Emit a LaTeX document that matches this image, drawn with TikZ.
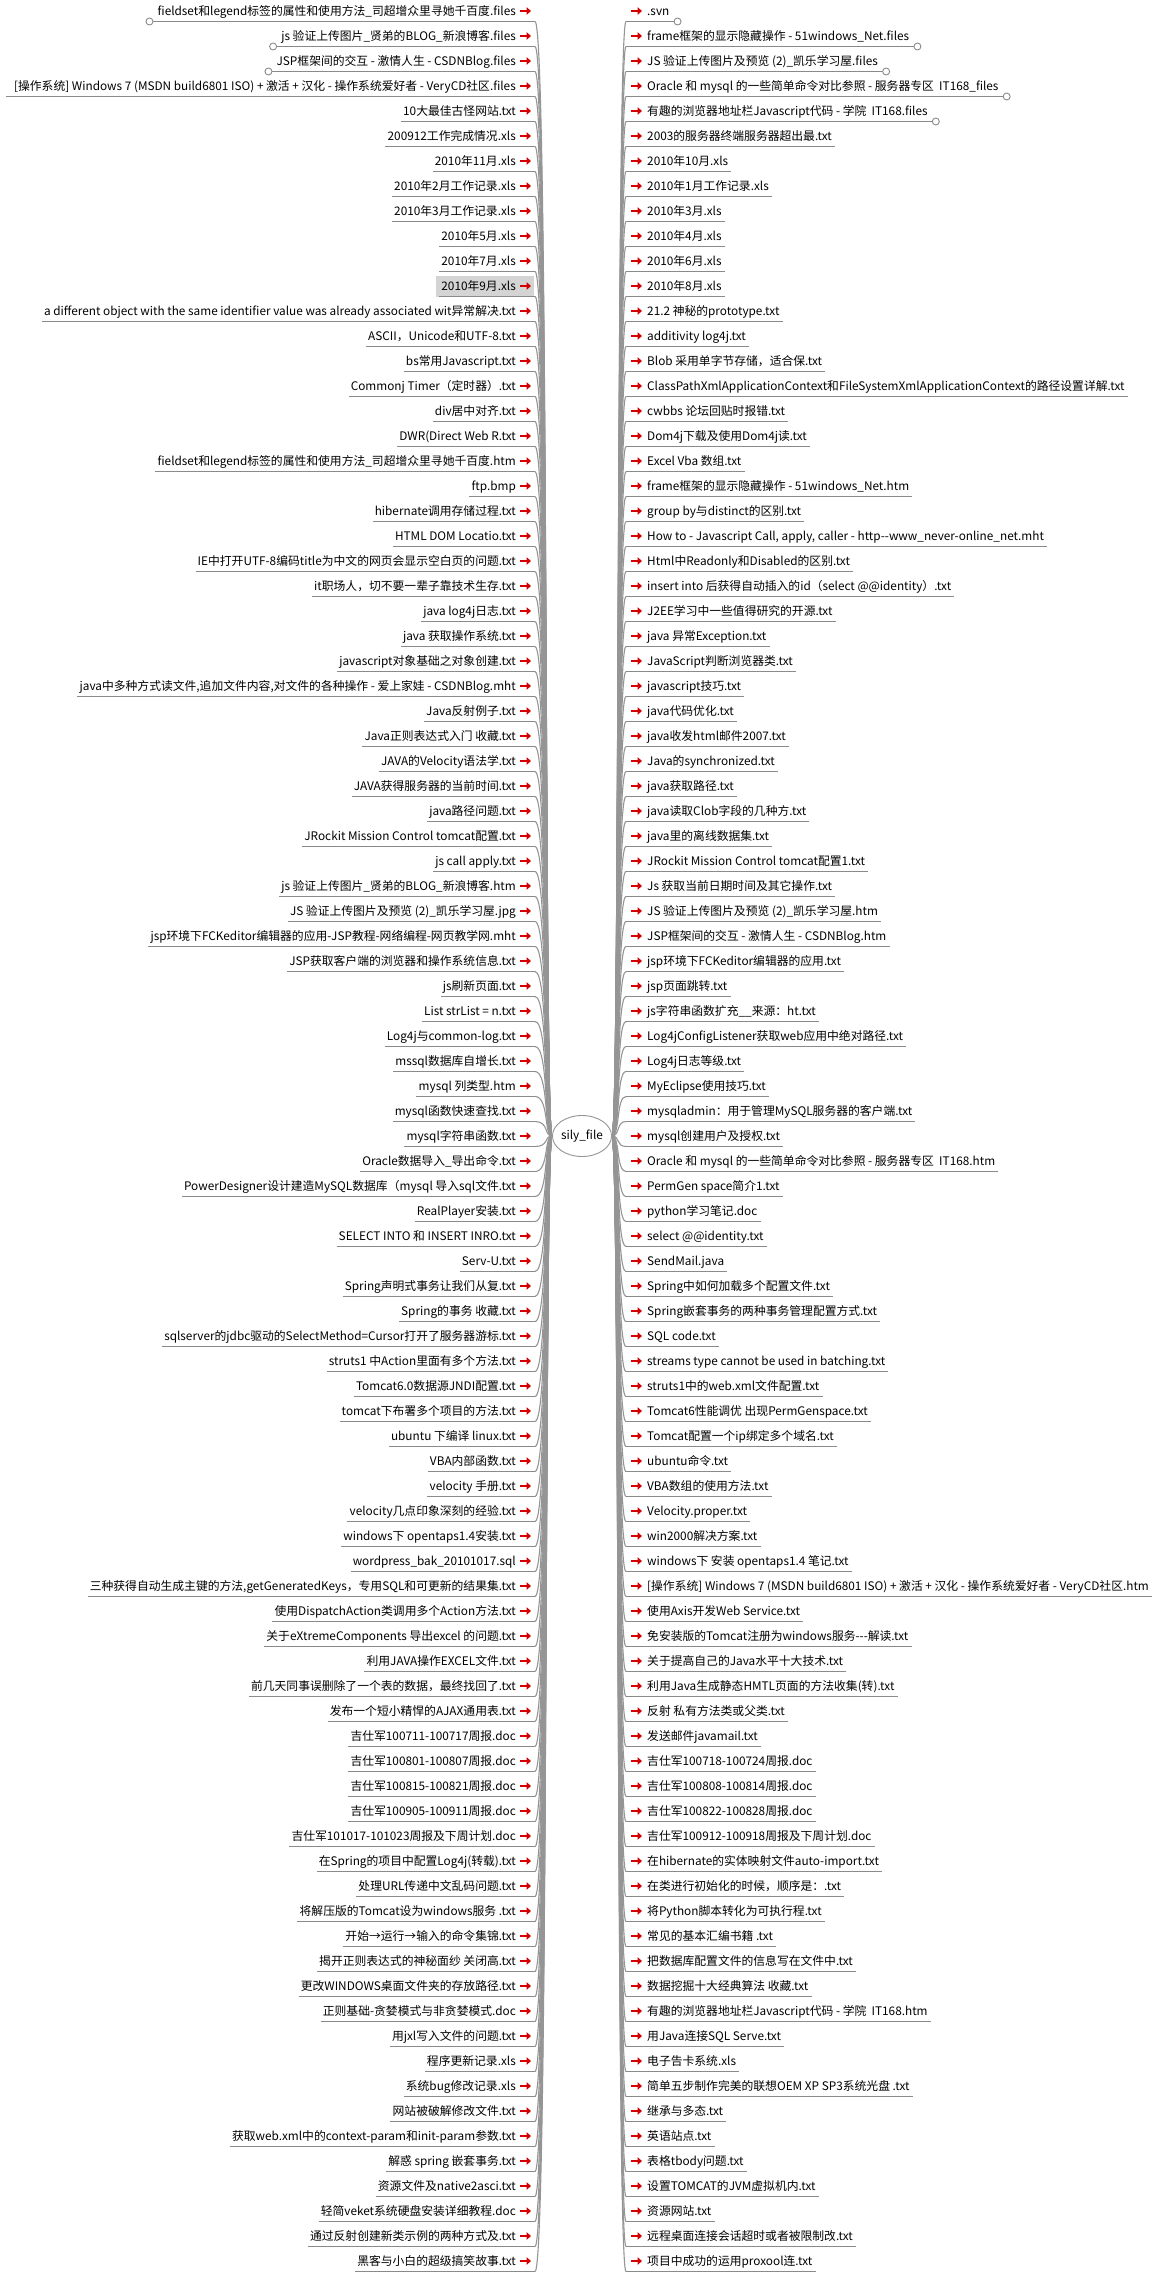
\documentclass[tikz,border=0pt]{standalone}
\usepackage{fontspec}
\setmainfont{Noto Sans CJK SC}[Ligatures=TeXOff]
\usetikzlibrary{arrows.meta,calc,backgrounds,shapes.geometric}
\definecolor{lgray}{HTML}{8A8A8A}
\definecolor{cgray}{HTML}{959595}
\definecolor{ared}{HTML}{D40000}
\definecolor{hl}{HTML}{D4D4D4}
\newcommand\itemfont{\fontsize{11.8}{13}\selectfont}
\tikzset{
  lt/.style={font=\itemfont, inner sep=0pt, anchor=east, text height=10pt, text depth=1.5pt},
  rt/.style={font=\itemfont, inner sep=0pt, anchor=west, text height=10pt, text depth=1.5pt},
  uline/.style={draw=lgray, line width=1.1pt},
  conn/.style={draw=cgray, line width=1.1pt},
  redarr/.style={draw=ared, line width=2pt, -{Triangle[length=4.5pt,width=7.5pt]}},
  endring/.style={circle, draw=lgray, fill=white, line width=0.9pt, minimum size=7pt, inner sep=0pt},
  hub/.style={ellipse, draw=cgray, fill=white, line width=0.9pt, minimum width=52pt, minimum height=41pt, inner sep=0pt, font=\itemfont},
}
\begin{document}
\begin{tikzpicture}[x=1pt,y=-1pt]
\useasboundingbox (0,0) rectangle (1161,2272);
\begin{pgfonlayer}{background}
\fill[white] (0,0) rectangle (1161,2272);
\end{pgfonlayer}

\node[hub] (c) at (582,1136) {sily\_file};

\foreach \t [count=\i] in {
{fieldset和legend标签的属性和使用方法\_司超增众里寻她千百度.files},
{js 验证上传图片\_贤弟的BLOG\_新浪博客.files},
{JSP框架间的交互 - 激情人生 - CSDNBlog.files},
{[操作系统] Windows 7 (MSDN build6801 ISO) + 激活 + 汉化 - 操作系统爱好者 - VeryCD社区.files},
{10大最佳古怪网站.txt},
{200912工作完成情况.xls},
{2010年11月.xls},
{2010年2月工作记录.xls},
{2010年3月工作记录.xls},
{2010年5月.xls},
{2010年7月.xls},
{2010年9月.xls},
{a different object with the same identifier value was already associated wit异常解决.txt},
{ASCII，Unicode和UTF-8.txt},
{bs常用Javascript.txt},
{Commonj Timer（定时器）.txt},
{div居中对齐.txt},
{DWR(Direct Web R.txt},
{fieldset和legend标签的属性和使用方法\_司超增众里寻她千百度.htm},
{ftp.bmp},
{hibernate调用存储过程.txt},
{HTML DOM Locatio.txt},
{IE中打开UTF-8编码title为中文的网页会显示空白页的问题.txt},
{it职场人，切不要一辈子靠技术生存.txt},
{java log4j日志.txt},
{java 获取操作系统.txt},
{javascript对象基础之对象创建.txt},
{java中多种方式读文件,追加文件内容,对文件的各种操作 - 爱上家娃 - CSDNBlog.mht},
{Java反射例子.txt},
{Java正则表达式入门 收藏.txt},
{JAVA的Velocity语法学.txt},
{JAVA获得服务器的当前时间.txt},
{java路径问题.txt},
{JRockit Mission Control tomcat配置.txt},
{js call apply.txt},
{js 验证上传图片\_贤弟的BLOG\_新浪博客.htm},
{JS 验证上传图片及预览 (2)\_凯乐学习屋.jpg},
{jsp环境下FCKeditor编辑器的应用-JSP教程-网络编程-网页教学网.mht},
{JSP获取客户端的浏览器和操作系统信息.txt},
{js刷新页面.txt},
{List strList = n.txt},
{Log4j与common-log.txt},
{mssql数据库自增长.txt},
{mysql 列类型.htm},
{mysql函数快速查找.txt},
{mysql字符串函数.txt},
{Oracle数据导入\_导出命令.txt},
{PowerDesigner设计建造MySQL数据库（mysql 导入sql文件.txt},
{RealPlayer安装.txt},
{SELECT INTO 和 INSERT INRO.txt},
{Serv-U.txt},
{Spring声明式事务让我们从复.txt},
{Spring的事务 收藏.txt},
{sqlserver的jdbc驱动的SelectMethod=Cursor打开了服务器游标.txt},
{struts1 中Action里面有多个方法.txt},
{Tomcat6.0数据源JNDI配置.txt},
{tomcat下布署多个项目的方法.txt},
{ubuntu 下编译 linux.txt},
{VBA内部函数.txt},
{velocity 手册.txt},
{velocity几点印象深刻的经验.txt},
{windows下 opentaps1.4安装.txt},
{wordpress\_bak\_20101017.sql},
{三种获得自动生成主键的方法,getGeneratedKeys，专用SQL和可更新的结果集.txt},
{使用DispatchAction类调用多个Action方法.txt},
{关于eXtremeComponents 导出excel 的问题.txt},
{利用JAVA操作EXCEL文件.txt},
{前几天同事误删除了一个表的数据，最终找回了.txt},
{发布一个短小精悍的AJAX通用表.txt},
{吉仕军100711-100717周报.doc},
{吉仕军100801-100807周报.doc},
{吉仕军100815-100821周报.doc},
{吉仕军100905-100911周报.doc},
{吉仕军101017-101023周报及下周计划.doc},
{在Spring的项目中配置Log4j(转载).txt},
{处理URL传递中文乱码问题.txt},
{将解压版的Tomcat设为windows服务 .txt},
{开始→运行→输入的命令集锦.txt},
{揭开正则表达式的神秘面纱 关闭高.txt},
{更改WINDOWS桌面文件夹的存放路径.txt},
{正则基础-贪婪模式与非贪婪模式.doc},
{用jxl写入文件的问题.txt},
{程序更新记录.xls},
{系统bug修改记录.xls},
{网站被破解修改文件.txt},
{获取web.xml中的context-param和init-param参数.txt},
{解惑 spring 嵌套事务.txt},
{资源文件及native2asci.txt},
{轻简veket系统硬盘安装详细教程.doc},
{通过反射创建新类示例的两种方式及.txt},
{黑客与小白的超级搞笑故事.txt}} {
  \pgfmathsetmacro\yt{11+25*(\i-1)}
  \pgfmathsetmacro\yu{\yt+10.5}
  \node[lt] (L\i) at (516,\yt) {\t};
  \coordinate (Le\i) at (535,\yu);
  \draw[uline] ($(L\i.west |- Le\i)+(-2,0)$) -- (Le\i);
  \draw[redarr] (520,\yt) -- (531,\yt);
  \draw[conn] (c.west) .. controls +(-8,0) and +(14,0) .. (Le\i);
}

\foreach \t [count=\i] in {
{.svn},
{frame框架的显示隐藏操作 - 51windows\_Net.files},
{JS 验证上传图片及预览 (2)\_凯乐学习屋.files},
{Oracle 和 mysql 的一些简单命令对比参照 - 服务器专区\ \ IT168\_files},
{有趣的浏览器地址栏Javascript代码 - 学院\ \ IT168.files},
{2003的服务器终端服务器超出最.txt},
{2010年10月.xls},
{2010年1月工作记录.xls},
{2010年3月.xls},
{2010年4月.xls},
{2010年6月.xls},
{2010年8月.xls},
{21.2 神秘的prototype.txt},
{additivity log4j.txt},
{Blob 采用单字节存储，适合保.txt},
{ClassPathXmlApplicationContext和FileSystemXmlApplicationContext的路径设置详解.txt},
{cwbbs 论坛回贴时报错.txt},
{Dom4j下载及使用Dom4j读.txt},
{Excel Vba 数组.txt},
{frame框架的显示隐藏操作 - 51windows\_Net.htm},
{group by与distinct的区别.txt},
{How to - Javascript Call, apply, caller - http--www\_never-online\_net.mht},
{Html中Readonly和Disabled的区别.txt},
{insert into 后获得自动插入的id（select @@identity）.txt},
{J2EE学习中一些值得研究的开源.txt},
{java 异常Exception.txt},
{JavaScript判断浏览器类.txt},
{javascript技巧.txt},
{java代码优化.txt},
{java收发html邮件2007.txt},
{Java的synchronized.txt},
{java获取路径.txt},
{java读取Clob字段的几种方.txt},
{java里的离线数据集.txt},
{JRockit Mission Control tomcat配置1.txt},
{Js 获取当前日期时间及其它操作.txt},
{JS 验证上传图片及预览 (2)\_凯乐学习屋.htm},
{JSP框架间的交互 - 激情人生 - CSDNBlog.htm},
{jsp环境下FCKeditor编辑器的应用.txt},
{jsp页面跳转.txt},
{js字符串函数扩充\_\_来源：ht.txt},
{Log4jConfigListener获取web应用中绝对路径.txt},
{Log4j日志等级.txt},
{MyEclipse使用技巧.txt},
{mysqladmin：用于管理MySQL服务器的客户端.txt},
{mysql创建用户及授权.txt},
{Oracle 和 mysql 的一些简单命令对比参照 - 服务器专区\ \ IT168.htm},
{PermGen space简介1.txt},
{python学习笔记.doc},
{select @@identity.txt},
{SendMail.java},
{Spring中如何加载多个配置文件.txt},
{Spring嵌套事务的两种事务管理配置方式.txt},
{SQL code.txt},
{streams type cannot be used in batching.txt},
{struts1中的web.xml文件配置.txt},
{Tomcat6性能调优 出现PermGenspace.txt},
{Tomcat配置一个ip绑定多个域名.txt},
{ubuntu命令.txt},
{VBA数组的使用方法.txt},
{Velocity.proper.txt},
{win2000解决方案.txt},
{windows下 安装 opentaps1.4 笔记.txt},
{[操作系统] Windows 7 (MSDN build6801 ISO) + 激活 + 汉化 - 操作系统爱好者 - VeryCD社区.htm},
{使用Axis开发Web Service.txt},
{免安装版的Tomcat注册为windows服务---解读.txt},
{关于提高自己的Java水平十大技术.txt},
{利用Java生成静态HMTL页面的方法收集(转).txt},
{反射 私有方法类或父类.txt},
{发送邮件javamail.txt},
{吉仕军100718-100724周报.doc},
{吉仕军100808-100814周报.doc},
{吉仕军100822-100828周报.doc},
{吉仕军100912-100918周报及下周计划.doc},
{在hibernate的实体映射文件auto-import.txt},
{在类进行初始化的时候，顺序是：.txt},
{将Python脚本转化为可执行程.txt},
{常见的基本汇编书籍 .txt},
{把数据库配置文件的信息写在文件中.txt},
{数据挖掘十大经典算法 收藏.txt},
{有趣的浏览器地址栏Javascript代码 - 学院\ \ IT168.htm},
{用Java连接SQL Serve.txt},
{电子告卡系统.xls},
{简单五步制作完美的联想OEM XP SP3系统光盘 .txt},
{继承与多态.txt},
{英语站点.txt},
{表格tbody问题.txt},
{设置TOMCAT的JVM虚拟机内.txt},
{资源网站.txt},
{远程桌面连接会话超时或者被限制改.txt},
{项目中成功的运用proxool连.txt}} {
  \pgfmathsetmacro\yt{11+25*(\i-1)}
  \pgfmathsetmacro\yu{\yt+10.5}
  \node[rt] (R\i) at (647,\yt) {\t};
  \coordinate (Re\i) at (626,\yu);
  \draw[uline] (Re\i) -- ($(R\i.east |- Re\i)+(3,0)$);
  \draw[redarr] (631,\yt) -- (642,\yt);
  \draw[conn] (c.east) .. controls +(8,0) and +(-10,0) .. (Re\i);
}

% open rings at the free ends of the folder items
\foreach \i in {1,2,3} {
  \draw[uline] ($(L\i.west |- Le\i)+(-8,0)$) -- ($(L\i.west |- Le\i)+(-2,0)$);
  \node[endring] (ringL\i) at ($(L\i.west |- Le\i)+(-8,0)$) {};
}
\draw[uline] ($(L4.west |- Le4)+(-8,0)$) -- ($(L4.west |- Le4)+(-2,0)$);
\foreach \i in {1,...,5} {
  \draw[uline] ($(R\i.east |- Re\i)+(3,0)$) -- ($(R\i.east |- Re\i)+(8,0)$);
  \node[endring] (ringR\i) at ($(R\i.east |- Re\i)+(8,0)$) {};
}

% highlighted entry
\begin{pgfonlayer}{background}
\fill[hl] ($(L12.west)+(-5,-10.5)$) rectangle (534,296.5);
\end{pgfonlayer}
\end{tikzpicture}
\end{document}
